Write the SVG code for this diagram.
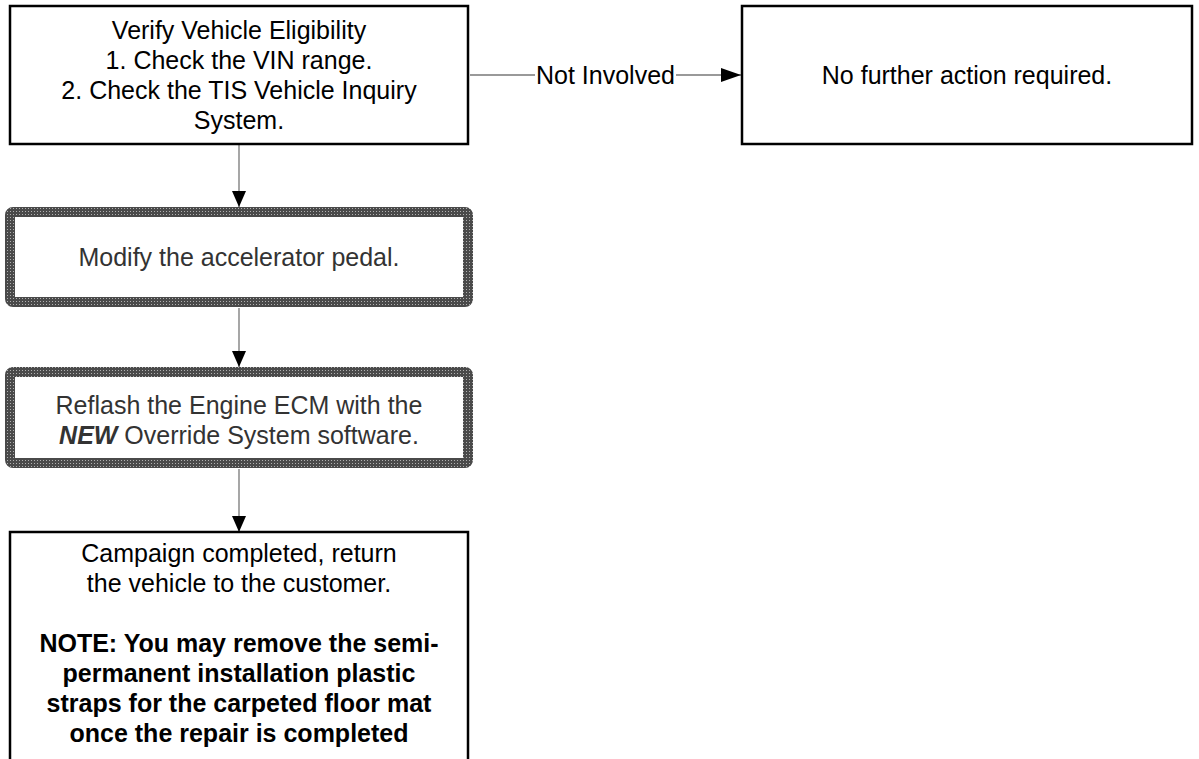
<svg xmlns="http://www.w3.org/2000/svg" width="1199" height="759" viewBox="0 0 1199 759">
<style>
  text { font-family: "Liberation Sans", Arial, sans-serif; font-size: 25px; text-anchor: middle; fill: #000; }
  .grey { fill: #333; }
  .b { font-weight: bold; }
  .box { fill: #fff; stroke: #000; stroke-width: 2.5; }
  .tbox { fill: #fff; stroke: url(#dots); stroke-width: 10; }
  .conn { stroke: #777; stroke-width: 1.3; fill: none; }
</style>
<defs>
  <pattern id="dots" width="3" height="3" patternUnits="userSpaceOnUse">
    <rect width="3" height="3" fill="#4a4a4a"/>
    <rect x="1" y="1" width="1" height="1" fill="#b0b0b0"/>
  </pattern>
  <marker id="arr" markerWidth="20" markerHeight="14" refX="20" refY="7" orient="auto" markerUnits="userSpaceOnUse">
    <path d="M0,0 L20,7 L0,14 Z" fill="#000"/>
  </marker>
  <marker id="arrv" markerWidth="16" markerHeight="14" refX="16" refY="7" orient="auto" markerUnits="userSpaceOnUse">
    <path d="M0,0 L16,7 L0,14 Z" fill="#000"/>
  </marker>
</defs>

<g id="connectors">
  <line class="conn" x1="470" y1="75" x2="535" y2="75"/>
  <line class="conn" x1="676" y1="75" x2="741" y2="75" marker-end="url(#arr)"/>
  <text x="605.5" y="84">Not Involved</text>
  <line class="conn" x1="239" y1="145" x2="239" y2="207" marker-end="url(#arrv)"/>
  <line class="conn" x1="239" y1="308" x2="239" y2="367" marker-end="url(#arrv)"/>
  <line class="conn" x1="239" y1="469" x2="239" y2="532" marker-end="url(#arrv)"/>
</g>

<g id="verify">
  <rect class="box" x="10" y="6" width="458" height="138"/>
  <text x="239" y="39">Verify Vehicle Eligibility</text>
  <text x="239" y="69">1. Check the VIN range.</text>
  <text x="239" y="99">2. Check the TIS Vehicle Inquiry</text>
  <text x="239" y="129">System.</text>
</g>

<g id="nofurther">
  <rect class="box" x="742" y="6" width="450" height="138"/>
  <text x="967" y="84">No further action required.</text>
</g>

<g id="modify">
  <rect class="tbox" x="10" y="212" width="458" height="90" rx="3"/>
  <text class="grey" x="239" y="266">Modify the accelerator pedal.</text>
</g>

<g id="reflash">
  <rect class="tbox" x="10" y="372" width="458" height="91" rx="3"/>
  <text class="grey" x="239" y="414">Reflash the Engine ECM with the</text>
  <text class="grey" x="239" y="444"><tspan font-weight="bold" font-style="italic">NEW</tspan> Override System software.</text>
</g>

<g id="completed">
  <rect class="box" x="10" y="532" width="458" height="240"/>
  <text x="239" y="562">Campaign completed, return</text>
  <text x="239" y="592">the vehicle to the customer.</text>
  <text class="b" x="239" y="652">NOTE: You may remove the semi-</text>
  <text class="b" x="239" y="682">permanent installation plastic</text>
  <text class="b" x="239" y="712">straps for the carpeted floor mat</text>
  <text class="b" x="239" y="742">once the repair is completed</text>
</g>
</svg>
